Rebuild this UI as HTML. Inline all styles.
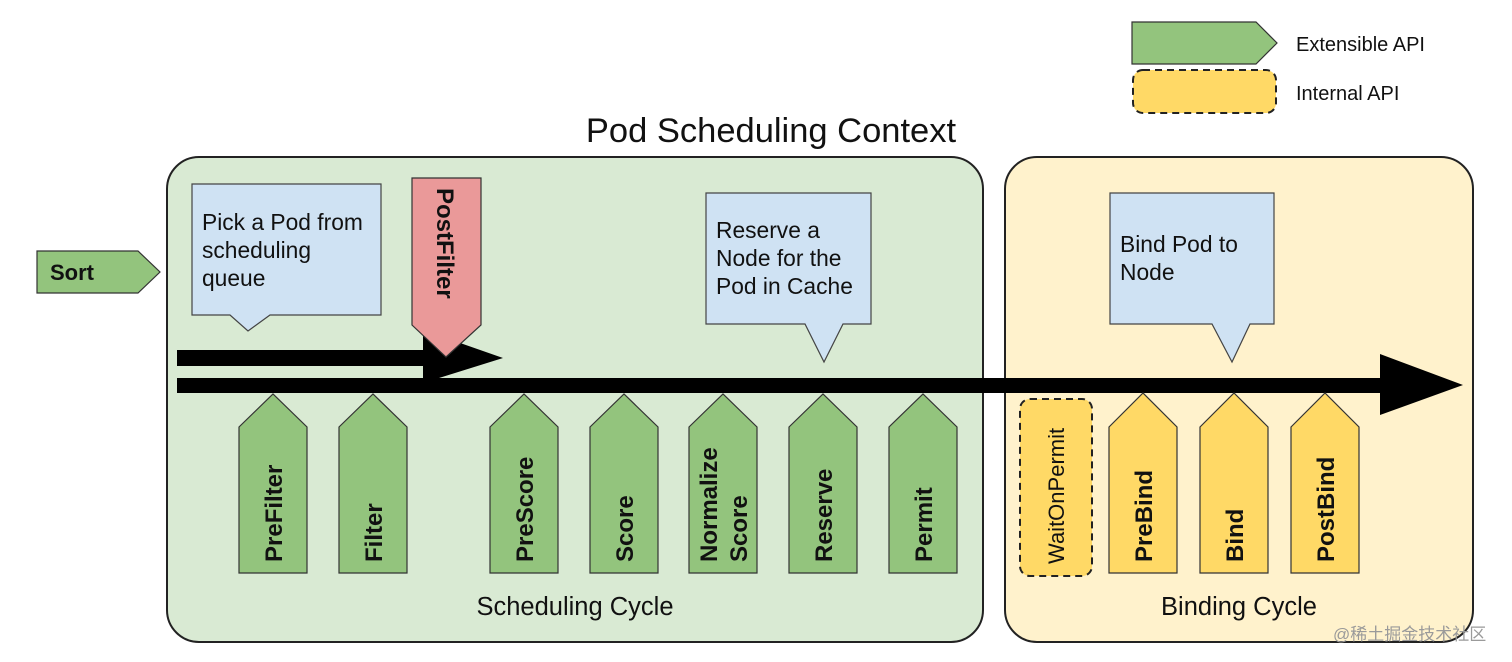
<!DOCTYPE html>
<html><head><meta charset="utf-8"><style>
html,body{margin:0;padding:0;background:#fff;}
svg{display:block}
text{font-family:"Liberation Sans",Arial,sans-serif;fill:#111}
.b{font-weight:bold;font-size:24px}
.n{font-size:22.8px}
</style></head><body>
<svg width="1512" height="662" viewBox="0 0 1512 662" xmlns="http://www.w3.org/2000/svg">
<polygon points="1132,22 1256,22 1277,43 1256,64 1132,64" fill="#93c47d" stroke="#333" stroke-width="1.2"/>
<text x="1296" y="51" style="font-size:20px">Extensible API</text>
<rect x="1133" y="70" width="143" height="43" rx="10" fill="#ffd966" stroke="#222" stroke-width="2" stroke-dasharray="7,5"/>
<text x="1296" y="100" style="font-size:20px">Internal API</text>

<text x="771" y="142" text-anchor="middle" style="font-size:34.5px">Pod Scheduling Context</text>

<rect x="167" y="157" width="816" height="485" rx="32" fill="#d9ead3" stroke="#222" stroke-width="2"/>
<rect x="1005" y="157" width="468" height="485" rx="32" fill="#fff2cc" stroke="#222" stroke-width="2"/>

<polygon points="37,251 138,251 160,272 138,293 37,293" fill="#93c47d" stroke="#333" stroke-width="1.2"/>
<text x="50" y="280" style="font-size:22px;font-weight:bold">Sort</text>

<polygon points="192,184 381,184 381,315 270,315 248,331 230,315 192,315" fill="#cfe2f3" stroke="#444" stroke-width="1.2"/>
<text x="202" y="230" class="n">Pick a Pod from</text>
<text x="202" y="258" class="n">scheduling</text>
<text x="202" y="286" class="n">queue</text>

<rect x="177" y="350" width="260" height="16" fill="#000"/>
<polygon points="423,330 503,358 423,383" fill="#000"/>

<polygon points="412,178 481,178 481,325 446,357 412,325" fill="#ea9999" stroke="#333" stroke-width="1.2"/>
<text transform="translate(437,188) rotate(90)" class="b">PostFilter</text>

<rect x="177" y="378" width="1210" height="15" fill="#000"/>
<polygon points="1380,354 1463,385 1380,415" fill="#000"/>

<polygon points="706,193 871,193 871,324 843,324 824,362 805,324 706,324" fill="#cfe2f3" stroke="#444" stroke-width="1.2"/>
<text x="716" y="238" class="n">Reserve a</text>
<text x="716" y="266" class="n">Node for the</text>
<text x="716" y="294" class="n">Pod in Cache</text>

<polygon points="1110,193 1274,193 1274,324 1250,324 1232,362 1212,324 1110,324" fill="#cfe2f3" stroke="#444" stroke-width="1.2"/>
<text x="1120" y="252" class="n">Bind Pod to</text>
<text x="1120" y="280" class="n">Node</text>

<g fill="#93c47d" stroke="#333" stroke-width="1.2">
<polygon points="239,427 273,394 307,427 307,573 239,573"/>
<polygon points="339,427 373,394 407,427 407,573 339,573"/>
<polygon points="490,427 524,394 558,427 558,573 490,573"/>
<polygon points="590,427 624,394 658,427 658,573 590,573"/>
<polygon points="689,427 723,394 757,427 757,573 689,573"/>
<polygon points="789,427 823,394 857,427 857,573 789,573"/>
<polygon points="889,427 923,394 957,427 957,573 889,573"/>
</g>
<text transform="translate(282,562) rotate(-90)" class="b">PreFilter</text>
<text transform="translate(382,562) rotate(-90)" class="b">Filter</text>
<text transform="translate(533,562) rotate(-90)" class="b">PreScore</text>
<text transform="translate(633,562) rotate(-90)" class="b">Score</text>
<text transform="translate(717,562) rotate(-90)" class="b">Normalize</text>
<text transform="translate(747,562) rotate(-90)" class="b">Score</text>
<text transform="translate(832,562) rotate(-90)" class="b">Reserve</text>
<text transform="translate(932,562) rotate(-90)" class="b">Permit</text>

<rect x="1020" y="399" width="72" height="177" rx="10" fill="#ffd966" stroke="#222" stroke-width="2" stroke-dasharray="7,5"/>
<text transform="translate(1064,564) rotate(-90)" style="font-size:22px">WaitOnPermit</text>
<g fill="#ffd966" stroke="#333" stroke-width="1.2">
<polygon points="1109,427 1143,393 1177,427 1177,573 1109,573"/>
<polygon points="1200,427 1234,393 1268,427 1268,573 1200,573"/>
<polygon points="1291,427 1325,393 1359,427 1359,573 1291,573"/>
</g>
<text transform="translate(1152,562) rotate(-90)" class="b">PreBind</text>
<text transform="translate(1243,562) rotate(-90)" class="b">Bind</text>
<text transform="translate(1334,562) rotate(-90)" class="b">PostBind</text>

<text x="575" y="615" text-anchor="middle" style="font-size:25.5px">Scheduling Cycle</text>
<text x="1239" y="615" text-anchor="middle" style="font-size:25.5px">Binding Cycle</text>

<text x="1333" y="640" style="font-size:17px;fill:#9a9a9a;font-family:'Liberation Sans','Noto Sans CJK SC',sans-serif">@稀土掘金技术社区</text>
</svg>
</body></html>
